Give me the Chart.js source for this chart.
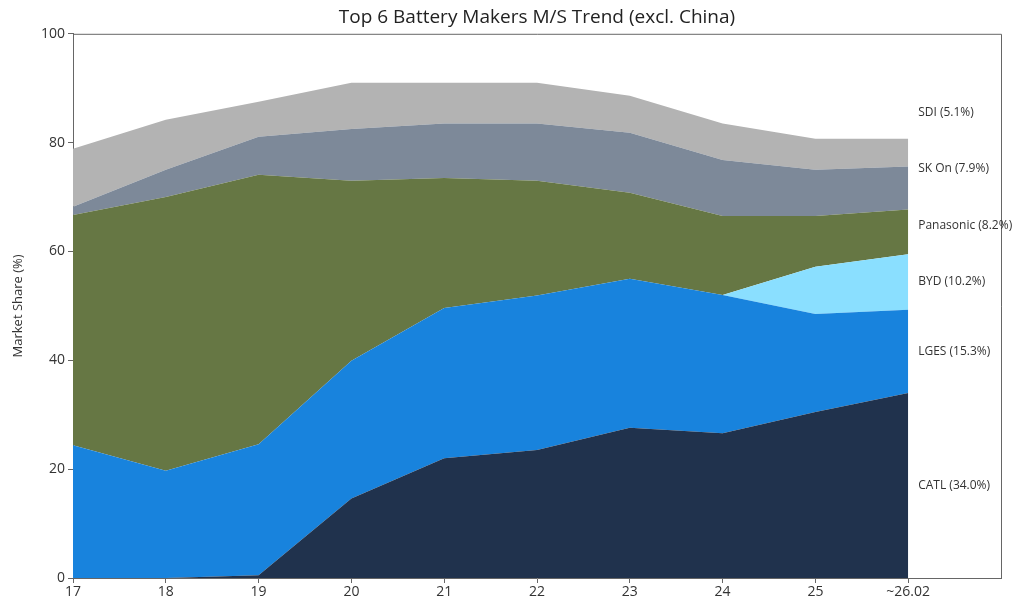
<!DOCTYPE html>
<html>
<head>
<meta charset="utf-8">
<script src="https://cdn.jsdelivr.net/npm/chart.js@4/dist/chart.umd.min.js"></script>
<style>
  html, body { margin: 0; padding: 0; background: #fff; }
  #wrap { width: 1026px; height: 603px; }
</style>
</head>
<body>
<div id="wrap"><canvas id="c" width="1026" height="603"></canvas></div>
<script>
const categories = ["17", "18", "19", "20", "21", "22", "23", "24", "25", "~26.02"];
const catl      = [0, 0, 0.5, 14.6, 22.0, 23.5, 27.6, 26.6, 30.5, 34.0];
const lges      = [24.4, 19.7, 24.1, 25.3, 27.6, 28.4, 27.4, 25.4, 18.0, 15.3];
const byd       = [0, 0, 0, 0, 0, 0, 0, 0, 8.7, 10.2];
const panasonic = [42.3, 50.3, 49.5, 33.1, 23.9, 21.1, 15.8, 14.5, 9.3, 8.2];
const skon      = [1.5, 5.0, 7.0, 9.5, 10.0, 10.5, 11.0, 10.3, 8.5, 7.9];
const sdi       = [10.7, 9.2, 6.4, 8.5, 7.5, 7.5, 6.8, 6.7, 5.7, 5.1];
const seriesNames = ["CATL", "LGES", "BYD", "Panasonic", "SK On", "SDI"];
const seriesValues = [catl, lges, byd, panasonic, skon, sdi];
const seriesColors = ["#20324d", "#1883dd", "#8adfff", "#667744", "#7d8999", "#b3b3b3"];
const yTicks = [0, 20, 40, 60, 80, 100];

const FONT = "'Open Sans', Lato, sans-serif";

const datasets = seriesNames.map((name, s) => ({
  label: name,
  data: seriesValues[s].map((v, i) => ({ x: i, y: v })),
  backgroundColor: seriesColors[s],
  borderColor: seriesColors[s],
  borderWidth: 0,
  pointRadius: 0,
  tension: 0,
  fill: s === 0 ? 'origin' : '-1'
}));

const framePlugin = {
  id: 'frame',
  afterDatasetsDraw(chart) {
    const { ctx, chartArea: a } = chart;
    ctx.save();
    ctx.strokeStyle = '#666';
    ctx.lineWidth = 1;
    ctx.beginPath();
    ctx.moveTo(a.left, a.top + 0.5);
    ctx.lineTo(a.right + 0.5, a.top + 0.5);
    ctx.lineTo(a.right + 0.5, a.bottom);
    ctx.stroke();
    ctx.restore();
  }
};

const endLabelPlugin = {
  id: 'endLabels',
  afterDraw(chart) {
    const { ctx } = chart;
    const y = chart.scales.y, x = chart.scales.x;
    const last = categories.length - 1;
    let cum = 0;
    const mids = [];
    seriesValues.forEach(arr => { mids.push(cum + arr[last] / 2); cum += arr[last]; });
    for (let i = 1; i < mids.length; i++) {
      if (mids[i] < mids[i - 1] + 10.4) mids[i] = mids[i - 1] + 10.4;
    }
    ctx.save();
    ctx.font = "12px " + FONT;
    ctx.fillStyle = '#333';
    ctx.textBaseline = 'middle';
    ctx.textAlign = 'left';
    const px = x.getPixelForValue(last) + 10;
    seriesNames.forEach((n, i) => {
      ctx.fillText(n + " (" + seriesValues[i][last].toFixed(1) + "%)", px, y.getPixelForValue(mids[i]));
    });
    ctx.restore();
  }
};

new Chart(document.getElementById('c'), {
  type: 'line',
  data: { datasets },
  plugins: [framePlugin, endLabelPlugin],
  options: {
    responsive: false,
    animation: false,
    layout: { padding: { top: 6, right: 25, left: 0, bottom: 0 } },
    plugins: {
      legend: { display: false },
      tooltip: { enabled: false },
      title: {
        display: true,
        fullSize: false,
        text: "Top 6 Battery Makers M/S Trend (excl. China)",
        color: '#222',
        font: { family: FONT, size: 19, weight: 'normal' },
        padding: { top: 0, bottom: 5 }
      },
      filler: { propagate: false }
    },
    scales: {
      x: {
        type: 'linear',
        min: 0,
        max: 10,
        afterBuildTicks: (s) => { s.ticks = categories.map((c, i) => ({ value: i })); },
        afterFit: (s) => { s.height = 25; },
        ticks: {
          callback: (v) => categories[v] !== undefined ? categories[v] : '',
          color: '#333',
          font: { family: FONT, size: 14 },
          padding: 1,
          maxRotation: 0,
          autoSkip: false
        },
        grid: { drawOnChartArea: false, drawTicks: true, tickLength: 5, color: '#666' },
        border: { color: '#666' }
      },
      y: {
        stacked: true,
        min: 0,
        max: 100,
        afterBuildTicks: (s) => { s.ticks = yTicks.map(v => ({ value: v })); },
        afterFit: (s) => { s.width = 73; },
        title: {
          display: true,
          text: "Market Share (%)",
          color: '#333',
          font: { family: FONT, size: 13 },
          padding: { top: 10, bottom: 0 }
        },
        ticks: {
          color: '#333',
          font: { family: FONT, size: 14 },
          padding: 3
        },
        grid: { drawOnChartArea: false, drawTicks: true, tickLength: 5, color: '#666' },
        border: { color: '#666' }
      }
    }
  }
});
</script>
</body>
</html>
